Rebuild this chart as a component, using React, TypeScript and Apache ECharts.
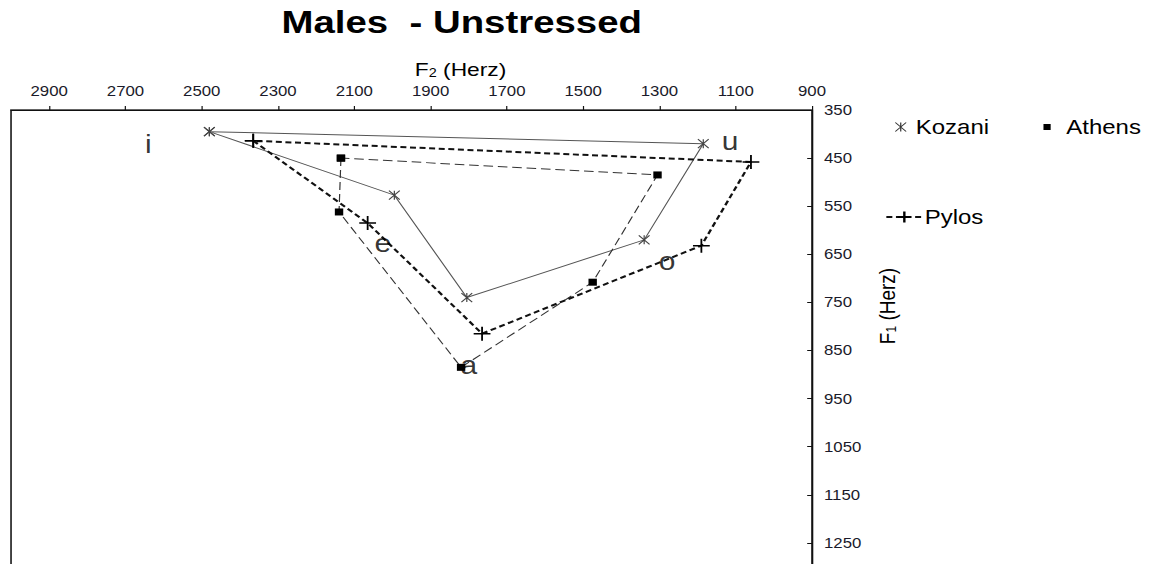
import React, { useEffect, useRef } from "react";
import * as echarts from "echarts";

// ---- data (F2 = x, F1 = y, in Hz) ----
const vowels = ["i", "e", "a", "o", "u"];
const kozaniF2 = [2480, 1995, 1805, 1340, 1185];
const kozaniF1 = [395, 527, 740, 620, 420];
const athensF2 = [2135, 2140, 1820, 1475, 1305];
const athensF1 = [450, 562, 885, 708, 485];
const pylosF2 = [2365, 2065, 1765, 1190, 1060];
const pylosF1 = [414, 585, 815, 632, 458];
const vowelLabelF2 = [2640, 2025, 1800, 1280, 1115];
const vowelLabelF1 = [421, 627, 880, 664, 415];
const f2Ticks = [2900, 2700, 2500, 2300, 2100, 1900, 1700, 1500, 1300, 1100, 900];
const f1Ticks = [350, 450, 550, 650, 750, 850, 950, 1050, 1150, 1250];

const FONT = "'Liberation Sans', Arial, sans-serif";
const STAR = "path://M0,0L10,10M10,0L0,10M5,0L5,10";
const PLUS = "path://M5,0L5,10M0,5L10,5";
const LOGICAL_W = 978;
const SCALE_X = 1173 / LOGICAL_W;

const loop = (xs: number[], ys: number[]) => {
  const pts = xs.map((x, i) => [x, ys[i]]);
  return [...pts, pts[0]];
};

export default function App() {
  const ref = useRef<HTMLDivElement>(null);
  useEffect(() => {
    if (!ref.current) return;
    const chart = echarts.init(ref.current, null, { renderer: "svg" });
    const textColor = "#000";
    const plain = (v: number) => String(v);
    chart.setOption({
      animation: false,
      backgroundColor: "#fff",
      textStyle: { fontFamily: FONT },
      title: [
        {
          text: "Males  - Unstressed",
          left: 385,
          top: 6,
          textAlign: "center",
          padding: 0,
          textStyle: { fontSize: 32, fontWeight: "bold", color: textColor, fontFamily: FONT },
        },
        {
          text: "F{s|2} (Herz)",
          left: 384,
          top: 60,
          textAlign: "center",
          padding: 0,
          textStyle: {
            fontSize: 19,
            fontWeight: "normal",
            color: textColor,
            fontFamily: FONT,
            rich: { s: { fontSize: 12, verticalAlign: "bottom", color: textColor, fontFamily: FONT } },
          },
        },
      ],
      legend: [
        {
          data: [{ name: "Kozani", icon: STAR, itemStyle: { color: "rgba(0,0,0,0)", borderColor: "#333", borderWidth: 1 } }],
          left: 746,
          top: 117,
          padding: 0,
          itemWidth: 9,
          itemHeight: 9,
          selectedMode: false,
          textStyle: { fontSize: 20, color: textColor, fontFamily: FONT, padding: [0, 0, 0, 3] },
        },
        {
          data: [{ name: "Athens", icon: "rect" }],
          left: 870,
          top: 117,
          padding: 0,
          itemWidth: 6,
          itemHeight: 6,
          selectedMode: false,
          textStyle: { fontSize: 20, color: textColor, fontFamily: FONT, padding: [0, 0, 0, 8] },
        },
        {
          data: ["Pylos"],
          left: 738,
          top: 207,
          padding: 0,
          itemWidth: 30,
          itemHeight: 14,
          itemGap: 2,
          selectedMode: false,
          textStyle: { fontSize: 20, color: textColor, fontFamily: FONT, padding: [0, 0, 0, -3] },
        },
      ],
      grid: {
        left: 9.2,
        top: 110,
        width: 667.8,
        height: 481,
        show: true,
        borderColor: "#333",
        borderWidth: 1.5,
        outerBoundsMode: "none",
        containLabel: false,
      },
      xAxis: {
        type: "value",
        position: "top",
        inverse: true,
        min: 900,
        max: 3000,
        splitLine: { show: false },
        axisLine: { show: true, onZero: false, lineStyle: { color: "#111", width: 1.2 } },
        axisTick: { show: true, inside: false, length: 4, customValues: f2Ticks, lineStyle: { color: "#111" } },
        axisLabel: { customValues: f2Ticks, formatter: plain, fontSize: 14, color: "#1a1a2a", margin: 12, fontFamily: FONT },
      },
      yAxis: {
        type: "value",
        position: "right",
        inverse: true,
        min: 350,
        max: 1350,
        splitLine: { show: false },
        axisLine: { show: true, onZero: false, lineStyle: { color: "#111", width: 1.2 } },
        axisTick: { show: true, inside: true, length: 4, customValues: f1Ticks, lineStyle: { color: "#111" } },
        axisLabel: { customValues: f1Ticks, formatter: plain, fontSize: 14, color: "#1a1a2a", margin: 10, fontFamily: FONT },
      },
      graphic: [
        {
          type: "text",
          x: 739.5,
          y: 306,
          rotation: Math.PI / 2,
          style: {
            text: "F{s|1} (Herz)",
            fontSize: 19,
            fontFamily: FONT,
            fill: textColor,
            align: "center",
            verticalAlign: "middle",
            rich: { s: { fontSize: 12, verticalAlign: "bottom", fill: textColor, fontFamily: FONT } },
          },
        },
      ],
      series: [
        {
          name: "Kozani",
          type: "line",
          data: loop(kozaniF2, kozaniF1),
          symbol: STAR,
          symbolSize: 9,
          showSymbol: true,
          lineStyle: { color: "#555", width: 1 },
          itemStyle: { color: "rgba(0,0,0,0)", borderColor: "#444", borderWidth: 1 },
          z: 3,
        },
        {
          name: "Athens",
          type: "line",
          data: loop(athensF2, athensF1),
          symbol: "rect",
          symbolSize: 7,
          showSymbol: true,
          lineStyle: { color: "#333", width: 1, type: [8, 4] },
          itemStyle: { color: "#000" },
          z: 4,
        },
        {
          name: "Pylos",
          type: "line",
          data: loop(pylosF2, pylosF1),
          symbol: PLUS,
          symbolSize: 14,
          showSymbol: true,
          lineStyle: { color: "#111", width: 2, type: [5, 3] },
          itemStyle: { color: "rgba(0,0,0,0)", borderColor: "#000", borderWidth: 1.5 },
          z: 5,
        },
        {
          name: "vowels",
          type: "scatter",
          silent: true,
          symbolSize: 1,
          itemStyle: { color: "rgba(0,0,0,0)" },
          data: vowels.map((v, i) => ({ name: v, value: [vowelLabelF2[i], vowelLabelF1[i]] })),
          label: {
            show: true,
            position: "inside",
            formatter: "{b}",
            fontSize: 25,
            color: "#000",
            fontFamily: FONT,
          },
          z: 6,
        },
      ],
    });
    return () => chart.dispose();
  }, []);
  return (
    <div
      ref={ref}
      style={{
        position: "fixed",
        left: 0,
        top: 0,
        width: LOGICAL_W,
        height: 564,
        transform: `scaleX(${SCALE_X})`,
        transformOrigin: "0 0",
        background: "#fff",
      }}
    />
  );
}
